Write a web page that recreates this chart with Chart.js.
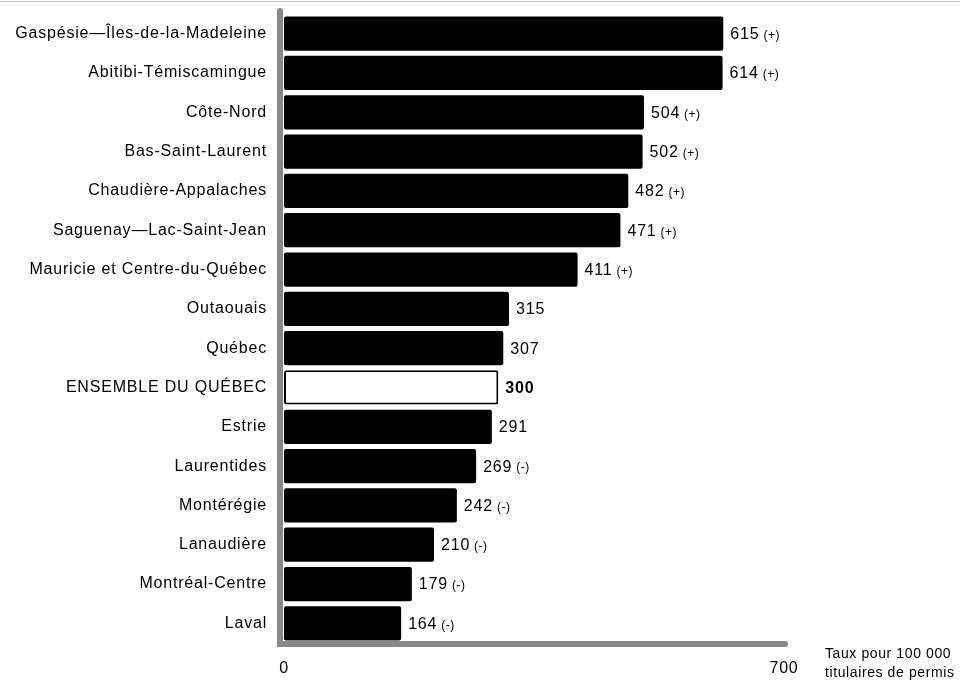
<!DOCTYPE html>
<html><head><meta charset="utf-8">
<script src="https://cdn.jsdelivr.net/npm/chart.js@4"></script>
<style>html,body{margin:0;padding:0;background:#fff}#wrap{width:960px;height:681px;position:relative}</style>
</head><body><div id="wrap"><canvas id="c" width="960" height="681"></canvas></div>
<script>
const categories = ["Gaspésie—Îles-de-la-Madeleine","Abitibi-Témiscamingue","Côte-Nord","Bas-Saint-Laurent","Chaudière-Appalaches","Saguenay—Lac-Saint-Jean","Mauricie et Centre-du-Québec","Outaouais","Québec","ENSEMBLE DU QUÉBEC","Estrie","Laurentides","Montérégie","Lanaudière","Montréal-Centre","Laval"];
const values = [615,614,504,502,482,471,411,315,307,300,291,269,242,210,179,164];
const signs = ["(+)","(+)","(+)","(+)","(+)","(+)","(+)","","","","","(-)","(-)","(-)","(-)","(-)"];
const xTicks = [0,700];
const axisTitle = ["Taux pour 100 000","titulaires de permis"];
const totalIndex = 9;

const FONT = "'Liberation Sans', Arial, sans-serif";

const decor = {
  id:'decor',
  beforeDraw(chart){
    const ctx=chart.ctx;
    ctx.letterSpacing='0.8px';
    ctx.save();
    ctx.strokeStyle='#c8c8c8'; ctx.lineWidth=1;
    ctx.beginPath(); ctx.moveTo(0,1.5); ctx.lineTo(960,1.5); ctx.stroke();
    ctx.restore();
  },
  afterDatasetsDraw(chart){
    const ctx=chart.ctx, x=chart.scales.x;
    ctx.save();
    ctx.strokeStyle='#888'; ctx.lineWidth=6; ctx.lineCap='round';
    ctx.beginPath();
    ctx.moveTo(280,11); ctx.lineTo(280,644); ctx.lineTo(785,644);
    ctx.stroke();
    const meta=chart.getDatasetMeta(0);
    ctx.textBaseline='middle'; ctx.fillStyle='#000'; ctx.textAlign='left';
    meta.data.forEach((bar,i)=>{
      const px=x.getPixelForValue(values[i])+7;
      const py=bar.y;
      ctx.letterSpacing='0.8px';
      ctx.font=(i===totalIndex?'bold ':'')+'16px '+FONT;
      const t=String(values[i]);
      ctx.fillText(t,px,py+1);
      if(signs[i]){
        const w=ctx.measureText(t).width;
        ctx.letterSpacing='0.5px';
        ctx.font='12px '+FONT;
        ctx.fillText(signs[i],px+w+4,py+2);
      }
    });
    ctx.letterSpacing='0.6px';
    ctx.font='14px '+FONT;
    ctx.fillText(axisTitle[0],825,654);
    ctx.fillText(axisTitle[1],825,673);
    ctx.restore();
  }
};

new Chart(document.getElementById('c'),{
  type:'bar',
  data:{labels:categories,datasets:[{
    data:values,
    backgroundColor:values.map((v,i)=>i===totalIndex?'#fff':'#000'),
    borderColor:'#000',
    borderWidth:values.map((v,i)=>i===totalIndex?2:0),
    borderRadius:2,
    borderSkipped:false,
    barPercentage:0.87,categoryPercentage:1
  }]},
  options:{
    indexAxis:'y',responsive:false,animation:false,
    layout:{padding:{top:14,left:0,right:176,bottom:0}},
    plugins:{legend:{display:false},tooltip:{enabled:false}},
    scales:{
      x:{min:0,max:700,grid:{display:false,drawTicks:false},border:{display:false},
        afterBuildTicks(s){s.ticks=xTicks.map(v=>({value:v}));},
        afterFit(s){s.height=38;s.paddingLeft=0;s.paddingRight=0;},
        ticks:{padding:16,color:'#000',font:{family:FONT,size:16},maxRotation:0,autoSkip:false}},
      y:{grid:{display:false,drawTicks:false},border:{display:false},
        afterFit(s){s.width=284;s.paddingTop=0;s.paddingBottom=0;},
        ticks:{padding:17,color:'#000',font:{family:FONT,size:16},autoSkip:false}}
    }
  },
  plugins:[decor]
});
</script></body></html>
